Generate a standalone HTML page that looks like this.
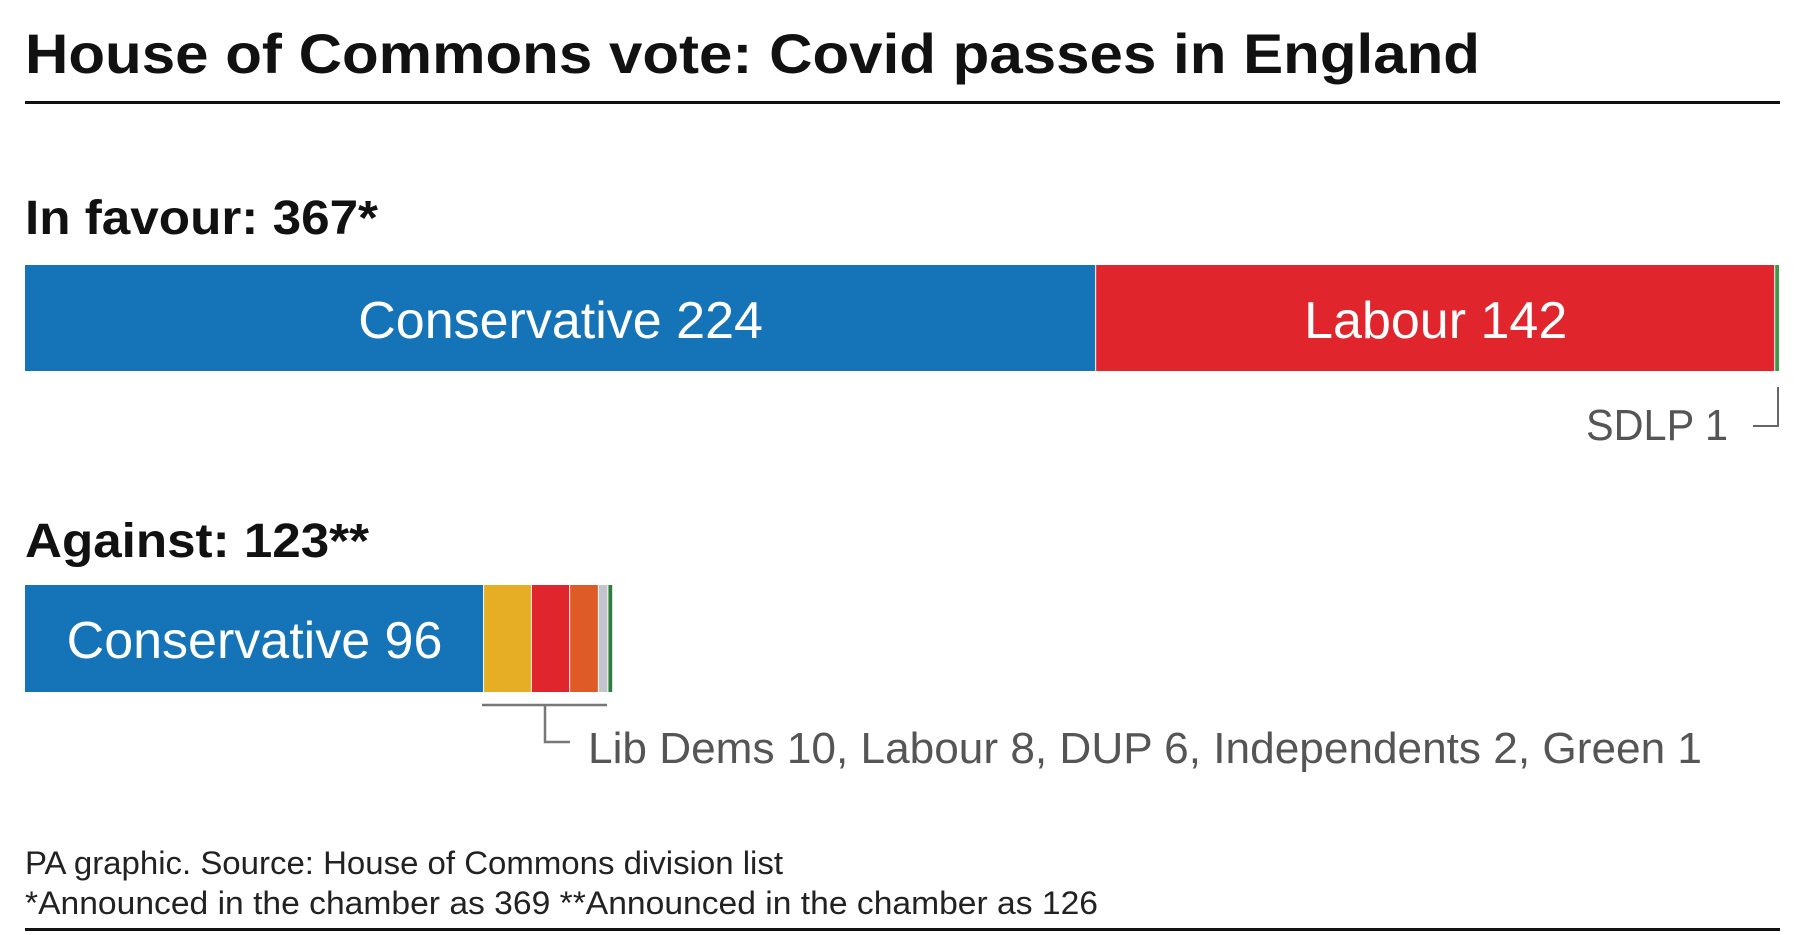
<!DOCTYPE html>
<html><head><meta charset="utf-8"><style>
html,body{margin:0;padding:0;background:#fff;}
svg{display:block;font-family:"Liberation Sans",sans-serif;}
</style></head><body>
<svg id="chart" width="1797" height="935" viewBox="0 0 1797 935" xmlns="http://www.w3.org/2000/svg">
<text x="25" y="73" font-size="56" font-weight="bold" fill="#111" textLength="1455" lengthAdjust="spacingAndGlyphs">House of Commons vote: Covid passes in England</text>
<rect x="25" y="101" width="1755" height="3" fill="#111"/>
<text x="25" y="234" font-size="48" font-weight="bold" fill="#111" textLength="353" lengthAdjust="spacingAndGlyphs">In favour: 367*</text>
<text x="25" y="557" font-size="48" font-weight="bold" fill="#111" textLength="344" lengthAdjust="spacingAndGlyphs">Against: 123**</text>
<g id="bars"></g>
<path d="M1778 387 V426 H1753" fill="none" stroke="#666" stroke-width="2"/>
<text x="1728" y="440" font-size="44" fill="#555" text-anchor="end" textLength="142" lengthAdjust="spacingAndGlyphs">SDLP 1</text>
<path d="M482 705 H607 M545 705 V742 H570" fill="none" stroke="#777" stroke-width="2.5"/>
<text x="588" y="763" font-size="44" fill="#555" textLength="1114" lengthAdjust="spacingAndGlyphs">Lib Dems 10, Labour 8, DUP 6, Independents 2, Green 1</text>
<text x="25" y="874" font-size="32" fill="#222" textLength="758" lengthAdjust="spacingAndGlyphs">PA graphic. Source: House of Commons division list</text>
<text x="25" y="914" font-size="32" fill="#222" textLength="1073" lengthAdjust="spacingAndGlyphs">*Announced in the chamber as 369  **Announced in the chamber as 126</text>
<rect x="25" y="928" width="1755" height="3" fill="#111"/>
</svg>
<script>
const favourParties = ["Conservative", "Labour", "SDLP"];
const favourValues = [224, 142, 1];
const favourLabels = ["Conservative 224", "Labour 142", ""];
const againstParties = ["Conservative", "Lib Dems", "Labour", "DUP", "Independents", "Green"];
const againstValues = [96, 10, 8, 6, 2, 1];
const againstLabels = ["Conservative 96", "", "", "", "", ""];
const colors = {"Conservative":"#1574b8","Labour":"#e0262c","SDLP":"#3a9a4a","Lib Dems":"#e5ae25","DUP":"#de5a26","Independents":"#c4c4cc","Green":"#2e7d3e"};
const total = favourValues.reduce((a,b)=>a+b,0);
const x0 = 25, fullW = 1755;
function xs(v){ return v * fullW / total; }
const g = document.getElementById('bars');
const NS = "http://www.w3.org/2000/svg";
function drawRow(parties, values, labels, y, h, rowName){
  let cx = x0;
  parties.forEach((p,i)=>{
    const w = xs(values[i]);
    const r = document.createElementNS(NS,'rect');
    
    
    r.setAttribute('x', cx); r.setAttribute('y', y);
    r.setAttribute('width', Math.max(w - 1, 1)); r.setAttribute('height', h);
    r.setAttribute('fill', colors[p]);
    g.appendChild(r);
    if (labels[i]) {
      const t = document.createElementNS(NS,'text');
      
      
      t.setAttribute('x', cx + w/2); t.setAttribute('y', y + 73);
      t.setAttribute('text-anchor','middle'); t.setAttribute('font-size','52');
      t.setAttribute('fill','#fff');
      t.textContent = labels[i];
      g.appendChild(t);
    }
    cx += w;
  });
}
drawRow(favourParties, favourValues, favourLabels, 265, 106, 'favour');
drawRow(againstParties, againstValues, againstLabels, 585, 107, 'against');
</script>
</body></html>
